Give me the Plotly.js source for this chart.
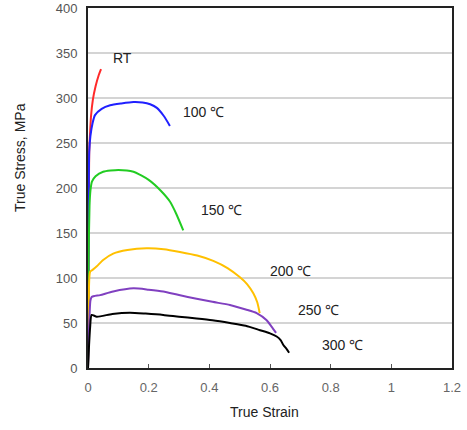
<!DOCTYPE html>
<html>
<head>
<meta charset="utf-8">
<script src="https://cdn.plot.ly/plotly-3.0.1.min.js"></script>
<style>html,body{margin:0;padding:0;background:#fff;}#chart{width:467px;height:430px;}</style>
</head>
<body>
<div id="chart"></div>
<script>
// True strain / true stress (MPa)
const rtStrain   = [0, 0.002, 0.004, 0.007, 0.010, 0.016, 0.025, 0.035, 0.043];
const rtStress   = [0, 150, 240, 262, 280, 298, 313, 325, 332];

const t100Strain = [0, 0.002, 0.004, 0.008, 0.015, 0.023, 0.045, 0.073, 0.11, 0.15, 0.18, 0.205, 0.227, 0.25, 0.27];
const t100Stress = [0, 150, 240, 258, 272, 281, 288, 292, 294, 295.5, 295, 293, 289, 280, 269];

const t150Strain = [0, 0.002, 0.005, 0.008, 0.013, 0.025, 0.05, 0.1, 0.15, 0.2, 0.24, 0.27, 0.29, 0.314];
const t150Stress = [0, 120, 180, 197, 207, 213, 218, 220, 218, 209, 197, 185, 172, 153];

const t200Strain = [0, 0.002, 0.007, 0.015, 0.029, 0.05, 0.083, 0.13, 0.193, 0.25, 0.303, 0.36, 0.413, 0.46, 0.5, 0.525, 0.545, 0.558, 0.566];
const t200Stress = [0, 60, 107, 109, 113, 120, 127, 131, 133, 132, 129, 125, 119, 111, 101, 93, 83, 73, 61];

const t250Strain = [0, 0.003, 0.008, 0.012, 0.04, 0.083, 0.15, 0.2, 0.248, 0.3, 0.358, 0.41, 0.468, 0.52, 0.556, 0.589, 0.605, 0.62];
const t250Stress = [0, 40, 75, 79, 81, 85, 88.5, 87, 85, 81, 77, 73.5, 70, 65, 61, 53, 46, 39];

const t300Strain = [0, 0.003, 0.007, 0.012, 0.029, 0.08, 0.138, 0.19, 0.248, 0.3, 0.358, 0.41, 0.468, 0.52, 0.567, 0.6, 0.622, 0.635, 0.644, 0.655, 0.663];
const t300Stress = [0, 22, 45, 59, 57, 60, 61.5, 60.5, 59, 57, 55, 53, 50, 47, 42, 38.5, 35, 31, 25.5, 21, 17];

const seriesNames  = ['RT', '100 ℃', '150 ℃', '200 ℃', '250 ℃', '300 ℃'];
const seriesColors = ['#ff2a2a', '#2020ff', '#22cc22', '#ffc000', '#8040c0', '#000000'];
const labelX = [0.115, 0.38, 0.44, 0.667, 0.76, 0.84];
const labelY = [345, 284, 176, 108, 65, 26];

const xTitle = 'True Strain';
const yTitle = 'True Stress, MPa';

const xs = [rtStrain, t100Strain, t150Strain, t200Strain, t250Strain, t300Strain];
const ys = [rtStress, t100Stress, t150Stress, t200Stress, t250Stress, t300Stress];

const FONT = 'Liberation Sans, Arial, sans-serif';

const traces = xs.map((x, i) => ({
  x: x, y: ys[i], type: 'scatter', mode: 'lines', name: seriesNames[i],
  line: {color: seriesColors[i], width: 2, shape: 'spline', smoothing: 0.6},
  hoverinfo: 'skip'
}));

const annotations = seriesNames.map((n, i) => ({
  x: labelX[i], y: labelY[i], xref: 'x', yref: 'y', text: n, showarrow: false,
  font: {family: FONT, size: 14, color: '#222'},
  xanchor: 'center', yanchor: 'middle'
}));
annotations.push({
  x: 0.486, y: -0.122, xref: 'paper', yref: 'paper', text: xTitle, showarrow: false,
  font: {family: FONT, size: 14, color: '#222'}, xanchor: 'center', yanchor: 'middle'
});
annotations.push({
  x: -0.187, y: 0.586, xref: 'paper', yref: 'paper', text: yTitle, showarrow: false,
  textangle: -90,
  font: {family: FONT, size: 14, color: '#222'}, xanchor: 'center', yanchor: 'middle'
});

const layout = {
  width: 467, height: 430,
  margin: {l: 88, r: 15, t: 8, b: 62},
  paper_bgcolor: '#fff', plot_bgcolor: '#fff',
  showlegend: false,
  font: {family: FONT, size: 13, color: '#555'},
  xaxis: {
    range: [0, 1.2], dtick: 0.2, tick0: 0,
    showgrid: false, zeroline: false,
    showline: true, linecolor: '#222', linewidth: 2, mirror: true,
    ticks: 'inside', ticklen: 4, tickcolor: '#555', tickwidth: 1,
    ticklabelstandoff: 6,
    tickfont: {size: 13, color: '#666'}
  },
  yaxis: {
    range: [0, 400], dtick: 50, tick0: 0,
    showgrid: true, gridcolor: '#d4d4d4', gridwidth: 1.5,
    zeroline: false,
    showline: true, linecolor: '#222', linewidth: 2, mirror: true,
    ticks: '', ticklabelstandoff: 6,
    tickfont: {size: 13, color: '#555'}
  },
  annotations: annotations
};

Plotly.newPlot('chart', traces, layout, {displayModeBar: false, staticPlot: true});
</script>
</body>
</html>
